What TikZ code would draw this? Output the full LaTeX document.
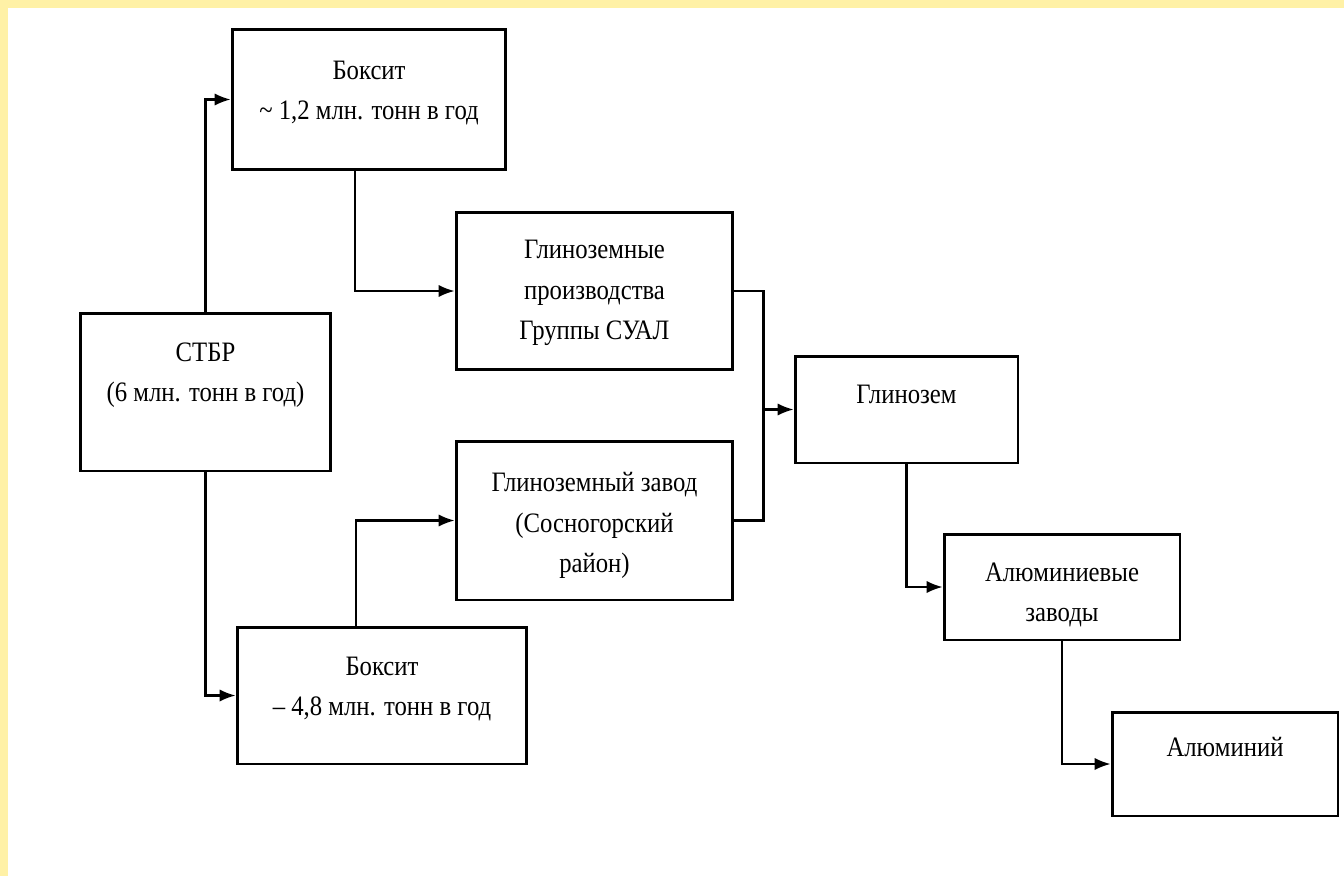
\documentclass[tikz,border=0pt]{standalone}
\usepackage{fontspec}
\setmainfont{Liberation Serif}[FakeStretch=0.88]
\usetikzlibrary{arrows.meta,positioning}
\definecolor{paleyellow}{RGB}{255,241,166}
% text block shifted up inside its box
\newcommand{\liftby}[2]{\raisebox{#1}[\height][\depth]{\begin{tabular}{@{}c@{}}#2\end{tabular}}}

\begin{document}
\begin{tikzpicture}[x=0.02cm,y=-0.02cm,>={Latex[length=9pt,width=7pt]},line width=1.2pt]
\tikzstyle{box}=[draw=black,line width=1.7pt,fill=white,inner sep=0pt,font=\fontsize{16pt}{23pt}\selectfont]
\fill[paleyellow] (0,0) rectangle (1344,876);
\fill[white] (8,8) rectangle (1344,876);
\node[box,minimum width=5.48cm,minimum height=2.82cm] (bx1) at (369,99.5) {\liftby{4.5pt}{Боксит\\\textasciitilde\ 1,2 млн. тонн в год}};
\node[box,minimum width=5.02cm,minimum height=3.16cm] (stbr) at (205.5,392) {\liftby{10.5pt}{СТБР\\(6 млн. тонн в год)}};
\node[box,minimum width=5.54cm,minimum height=3.16cm] (glpr) at (594.5,291) {\liftby{0pt}{Глиноземные\\производства\\Группы СУАЛ}};
\node[box,minimum width=5.54cm,minimum height=3.18cm] (glzav) at (594.5,520.5) {\liftby{-2pt}{Глиноземный завод\\(Сосногорский\\район)}};
\node[box,minimum width=5.80cm,minimum height=2.74cm] (bx2) at (382,695.5) {\liftby{4.5pt}{Боксит\\– 4,8 млн. тонн в год}};
\node[box,minimum width=4.46cm,minimum height=2.14cm] (glin) at (906.5,409.5) {\liftby{8pt}{Глинозем}};
\node[box,minimum width=4.72cm,minimum height=2.12cm] (alzav) at (1062,587) {\liftby{-3.5pt}{Алюминиевые\\заводы}};
\node[box,minimum width=4.52cm,minimum height=2.08cm] (alum) at (1225,764) {\liftby{9pt}{Алюминий}};
\coordinate[left=0.6cm of glin.west] (mrg);
\draw[->] (stbr.north) |- (bx1.west);
\draw[->] (stbr.south) |- (bx2.west);
\draw[->] ([xshift=-0.28cm]bx1.south) |- (glpr.west);
\draw[->] ([xshift=-0.52cm]bx2.north) |- (glzav.west);
\draw (glpr.east) -| (mrg);
\draw (glzav.east) -| (mrg);
\draw[->] (mrg) -- (glin.west);
\draw[->] (glin.south) |- (alzav.west);
\draw[->] (alzav.south) |- (alum.west);
\end{tikzpicture}
\end{document}
